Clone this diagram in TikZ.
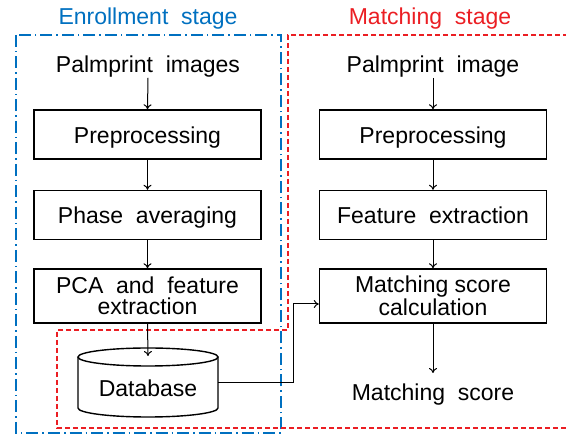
\documentclass[tikz,border=0pt]{standalone}
\usepackage{fontspec}
\setmainfont{Liberation Sans}
\usetikzlibrary{arrows.meta}
\definecolor{stblue}{RGB}{0,112,192}
\definecolor{stred}{RGB}{235,30,35}
\tikzset{
  every node/.style={font=\fontsize{23}{21}\selectfont, align=center},
  sl/.style={text height=16.5pt, text depth=4.8pt},
  bl/.style={text height=22pt, text depth=4.8pt},
  procbox/.style={draw, line width=1.4pt, minimum width=227pt, minimum height=49pt, inner sep=0pt},
  plain/.style={inner sep=0pt},
  arr/.style={line width=1pt, -{To[length=5pt,width=8pt]}},
  bluefr/.style={draw=stblue, line width=1.4pt, dash pattern=on 12pt off 4pt on 1.5pt off 4pt},
  redfr/.style={draw=stred, line width=1.4pt, dash pattern=on 5pt off 3pt},
}
\begin{document}
\begin{tikzpicture}[x=1pt,y=-1pt]
\useasboundingbox (0,0) rectangle (566,435);
% frames
\draw[bluefr] (16,35) rectangle (281,433);
\draw[redfr] (568,35) -- (288,35) -- (288,330) -- (57,330) -- (57,428) -- (568,428);
% titles
\node[plain, sl, text=stblue] (t1) at (148,19) {Enrollment\ \ stage};
\node[plain, sl, text=stred] (t2) at (430,19) {Matching\ \ stage};
% left column
\node[plain, sl] (pi) at (148,67) {Palmprint\ \ images};
\node[procbox, bl] (pre1) at (147.5,134.5) {Preprocessing};
\node[procbox, bl] (pha) at (147.5,215) {Phase\ \ averaging};
\node[procbox, minimum height=54pt] (pca) at (147.5,296) {PCA\ \ and\ \ feature\\extraction};
% database cylinder
\draw[line width=1.4pt, fill=white] (78,357) -- (78,408) arc[start angle=180, end angle=360, x radius=70pt, y radius=9pt] -- (218,357);
\draw[line width=1.4pt] (148,357) ellipse [x radius=70pt, y radius=9pt];
\node[plain, minimum width=140pt, minimum height=69pt] (db) at (148,383) {};
\node[plain, sl] (dbt) at (148,391) {Database};
% right column
\node[plain, sl] (pi2) at (433,67) {Palmprint\ \ image};
\node[procbox, bl] (pre2) at (433,134.5) {Preprocessing};
\node[procbox, bl] (fe) at (433,215) {Feature\ \ extraction};
\node[procbox, minimum height=54pt] (calc) at (433,296) {Matching score\\calculation};
\node[plain, sl] (ms) at (433,395) {Matching\ \ score};
% arrows
\draw[arr] (pi.south) ++(0,0) -- (pre1.north);
\draw[arr] (pre1) -- (pha);
\draw[arr] (pha) -- (pca);
\draw[arr] (pca.south) -- (148,356);
\draw[arr] (pi2.south) -- (pre2.north);
\draw[arr] (pre2) -- (fe);
\draw[arr] (fe) -- (calc);
\draw[arr] (calc.south) -- (433,373);
\draw[arr] (db.east) -- ++(75,0) |- ([yshift=-8pt]calc.west);
\end{tikzpicture}
\end{document}
